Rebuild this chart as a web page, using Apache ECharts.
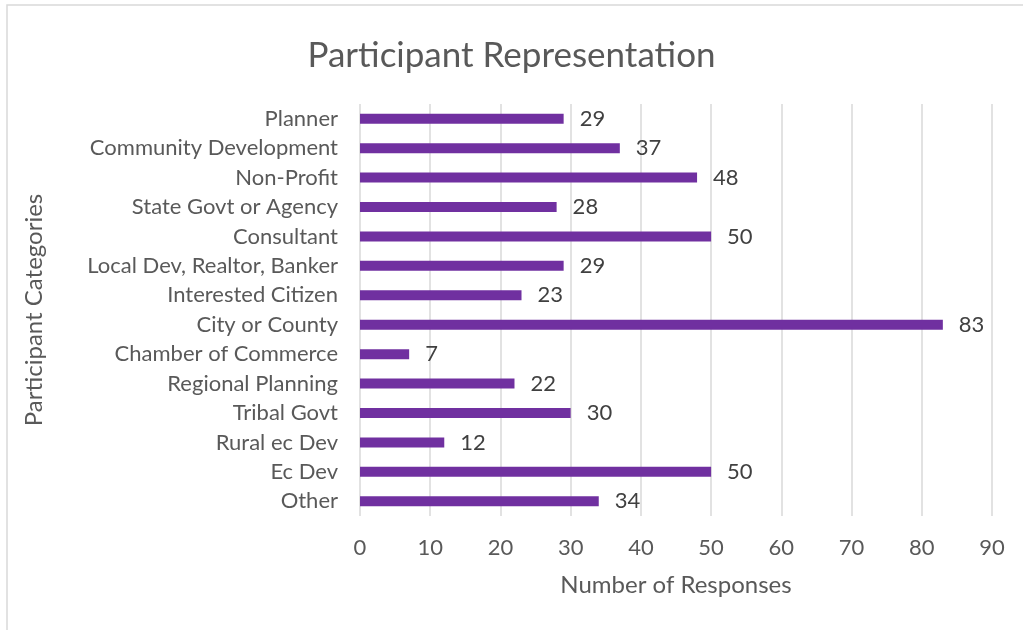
<!DOCTYPE html>
<html>
<head>
<meta charset="utf-8">
<script src="https://cdn.jsdelivr.net/npm/echarts@6/dist/echarts.min.js"></script>
<style>
  html, body { margin: 0; padding: 0; background: #fff; }
  #chart { width: 1023px; height: 630px; }
</style>
</head>
<body>
<div id="chart"></div>
<script>
// Categories listed top to bottom as drawn
const categories = [
  'Planner',
  'Community Development',
  'Non-Profit',
  'State Govt or Agency',
  'Consultant',
  'Local Dev, Realtor, Banker',
  'Interested Citizen',
  'City or County',
  'Chamber of Commerce',
  'Regional Planning',
  'Tribal Govt',
  'Rural ec Dev',
  'Ec Dev',
  'Other'
];
const responses = [29, 37, 48, 28, 50, 29, 23, 83, 7, 22, 30, 12, 50, 34];

const FONT = 'Lato';
const chart = echarts.init(document.getElementById('chart'), null, { renderer: 'canvas' });

chart.setOption({
  animation: false,
  backgroundColor: '#ffffff',
  textStyle: { fontFamily: FONT },
  graphic: [{
    type: 'rect',
    shape: { x: 7, y: 5, width: 1030, height: 640 },
    style: { fill: 'none', stroke: '#d9d9d9', lineWidth: 1.5 },
    silent: true,
    z: -1
  }],
  title: {
    text: 'Participant Representation',
    left: 'center',
    top: 33,
    textStyle: { fontFamily: FONT, fontSize: 35, fontWeight: 'normal', color: '#595959' }
  },
  grid: { left: 360, right: 31, top: 104, bottom: 114, containLabel: false },
  xAxis: {
    type: 'value',
    min: 0,
    max: 90,
    interval: 10,
    name: 'Number of Responses',
    nameLocation: 'middle',
    nameGap: 57,
    nameTextStyle: { fontFamily: FONT, fontSize: 24, color: '#595959' },
    axisLine: { show: false },
    axisTick: { show: false },
    axisLabel: { margin: 21, fontFamily: FONT, fontSize: 22, color: '#595959' },
    splitLine: { show: true, lineStyle: { color: '#d9d9d9', width: 1.5 } }
  },
  yAxis: {
    type: 'category',
    data: categories,
    inverse: true,
    name: 'Participant Categories',
    nameLocation: 'middle',
    nameGap: 314,
    nameTextStyle: { fontFamily: FONT, fontSize: 24, color: '#595959' },
    axisLine: { show: false },
    axisTick: { show: false },
    axisLabel: { margin: 22, fontFamily: FONT, fontSize: 22, color: '#595959' },
    splitLine: { show: false }
  },
  series: [{
    type: 'bar',
    data: responses,
    barWidth: 10,
    itemStyle: { color: '#7030a0' },
    label: {
      show: true,
      position: 'right',
      distance: 16,
      fontFamily: FONT,
      fontSize: 22,
      color: '#404040'
    }
  }]
});
</script>
</body>
</html>
